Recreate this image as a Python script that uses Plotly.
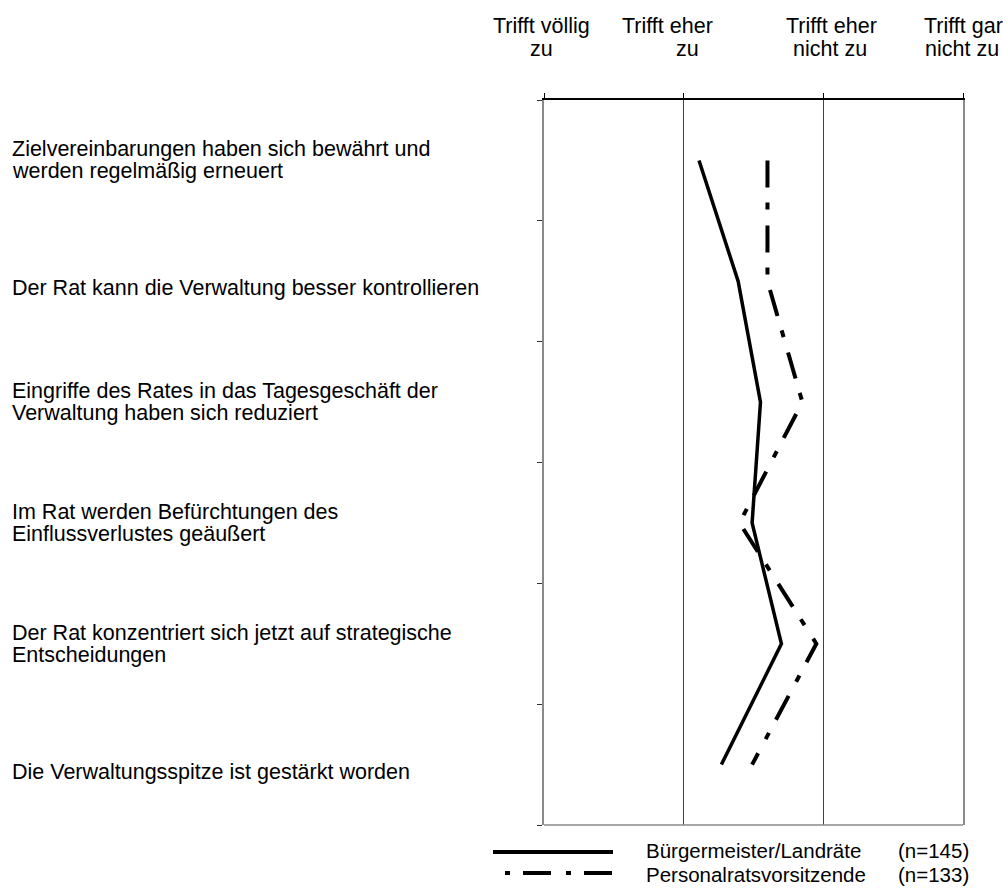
import plotly.graph_objects as go

# ---- data ----
statements = [
    ["Zielvereinbarungen haben sich bewährt und", "werden regelmäßig erneuert"],
    ["Der Rat kann die Verwaltung besser kontrollieren"],
    ["Eingriffe des Rates in das Tagesgeschäft der", "Verwaltung haben sich reduziert"],
    ["Im Rat werden Befürchtungen des", "Einflussverlustes geäußert"],
    ["Der Rat konzentriert sich jetzt auf strategische", "Entscheidungen"],
    ["Die Verwaltungsspitze ist gestärkt worden"],
]
buergermeister = [2.11, 2.39, 2.55, 2.49, 2.70, 2.27]
personalrat = [2.60, 2.60, 2.85, 2.40, 2.95, 2.49]
scale_labels = [
    ["Trifft völlig", "zu"],
    ["Trifft eher", "zu"],
    ["Trifft eher", "nicht zu"],
    ["Trifft gar", "nicht zu"],
]
scale_values = [1, 2, 3, 4]
series_names = ["Bürgermeister/Landräte", "Personalratsvorsitzende"]
series_n = [145, 133]

FONT = "Liberation Sans, Arial, sans-serif"
FS = 21.5
FS_LEG = 20.5
W, H = 1003, 893
L, R, T, B = 544, 40, 100, 68
PW, PH = W - L - R, H - T - B

def px_x(p):
    return (p - L) / PW

def px_y(p):
    return 1 - (p - T) / PH

ypos = [i + 0.5 for i in range(len(statements))]

fig = go.Figure()
fig.add_trace(go.Scatter(x=buergermeister, y=ypos, mode="lines",
                         line=dict(color="black", width=3.5),
                         name=series_names[0], showlegend=False))
fig.add_trace(go.Scatter(x=personalrat, y=ypos, mode="lines",
                         line=dict(color="black", width=4, dash="27px,15px,7px,16px"),
                         name=series_names[1], showlegend=False))

ann = []
# left statement labels
for yp, lines in zip(ypos, statements):
    if len(lines) == 1:
        shifts = [-7]
    else:
        shifts = [11, -11]
    for ln, sh in zip(lines, shifts):
        ann.append(dict(text=ln, x=px_x(10), xref="paper", xanchor="left",
                        y=yp, yref="y", yanchor="middle", yshift=sh,
                        showarrow=False, font=dict(family=FONT, size=FS, color="black")))

# header scale labels
hdr_x = [[541.5, 541.7], [667, 687], [831.7, 830], [963, 961.5]]
hdr_y = [26, 49]
for lines, xs in zip(scale_labels, hdr_x):
    for ln, xx, yy in zip(lines, xs, hdr_y):
        ann.append(dict(text=ln, x=px_x(xx), xref="paper", xanchor="center",
                        y=px_y(yy), yref="paper", yanchor="middle",
                        showarrow=False, font=dict(family=FONT, size=FS, color="black")))

# legend texts
leg_y = [851, 874]
for nm, n, yy in zip(series_names, series_n, leg_y):
    ann.append(dict(text=nm, x=px_x(645), xref="paper", xanchor="left",
                    y=px_y(yy), yref="paper", yanchor="middle", borderpad=0,
                    showarrow=False, font=dict(family=FONT, size=FS_LEG, color="black")))
    ann.append(dict(text=f"(n={n})", x=px_x(897), xref="paper", xanchor="left",
                    y=px_y(yy), yref="paper", yanchor="middle", borderpad=0,
                    showarrow=False, font=dict(family=FONT, size=FS_LEG, color="black")))

shapes = [
    # bottom frame line (gray)
    dict(type="line", xref="paper", yref="paper", x0=0, x1=1, y0=0, y1=0,
         line=dict(color="#8a8a8a", width=1.5), layer="above"),
    # legend samples
    dict(type="line", xref="paper", yref="paper", x0=px_x(493), x1=px_x(613),
         y0=px_y(852), y1=px_y(852), line=dict(color="black", width=4)),
    dict(type="line", xref="paper", yref="paper", x0=px_x(505), x1=px_x(613),
         y0=px_y(873), y1=px_y(873), line=dict(color="black", width=4, dash="5px,13px,28px,15px")),
]

fig.update_layout(
    width=W, height=H,
    margin=dict(l=L, r=R, t=T, b=B, pad=0),
    paper_bgcolor="white", plot_bgcolor="white",
    showlegend=False,
    annotations=ann, shapes=shapes,
    xaxis=dict(range=[1, 4], side="top", tickvals=scale_values, showticklabels=False,
               ticks="outside", ticklen=5, tickcolor="black", tickwidth=1,
               showline=True, linecolor="black", linewidth=1.5,
               showgrid=True, gridcolor="#404040", gridwidth=1, zeroline=False),
    yaxis=dict(range=[6, 0], tickvals=list(range(len(statements) + 1)), showticklabels=False,
               ticks="outside", ticklen=5, tickcolor="#333333", tickwidth=1,
               showline=True, linecolor="#8a8a8a", linewidth=1.5, mirror=True,
               showgrid=False, zeroline=False),
)

fig.write_html("out.html", config={"displayModeBar": False},
               post_script="document.body.style.margin='0';document.body.style.overflow='hidden';")
